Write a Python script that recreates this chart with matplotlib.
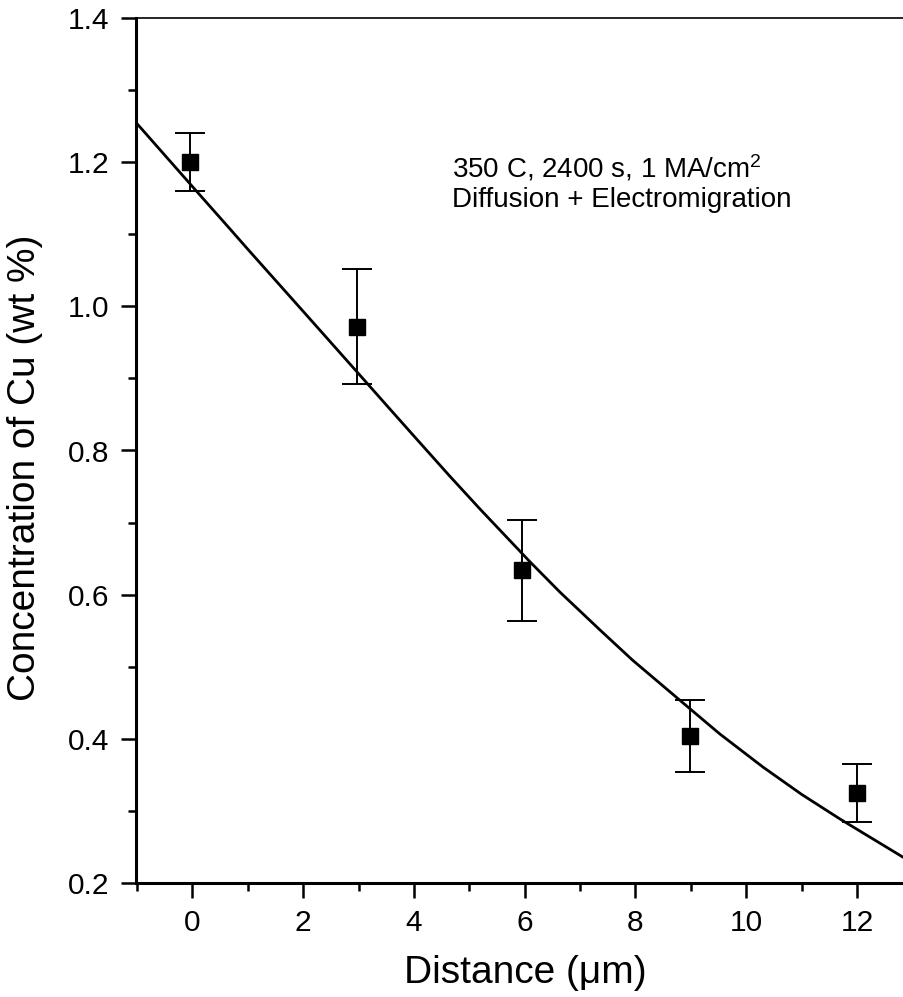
import matplotlib
matplotlib.use("Agg")
import matplotlib.pyplot as plt
from matplotlib.ticker import MultipleLocator

plt.rcParams['font.family'] = ['Liberation Sans', 'DejaVu Sans']
plt.rcParams['mathtext.fontset'] = 'custom'
plt.rcParams['mathtext.rm'] = 'Liberation Sans'
plt.rcParams['mathtext.it'] = 'Liberation Sans'

# measured data
distance = [-0.05, 2.97, 5.95, 8.98, 12.0]
concentration = [1.200, 0.972, 0.634, 0.404, 0.325]
error = [0.040, 0.080, 0.070, 0.050, 0.040]

# fitted curve
fit_x = [-1.02, 0.07, 0.67, 0.99, 1.93, 2.15, 2.96, 3.56, 4.00, 4.64, 5.19,
         6.09, 6.63, 7.36, 7.95, 8.98, 9.52, 10.30, 11.00, 11.69, 12.85]
fit_y = [1.255, 1.160, 1.108, 1.080, 0.999, 0.980, 0.910, 0.858, 0.820, 0.765, 0.719,
         0.646, 0.604, 0.551, 0.509, 0.442, 0.407, 0.361, 0.323, 0.289, 0.235]

xticks = [0, 2, 4, 6, 8, 10, 12]
yticks = [0.2, 0.4, 0.6, 0.8, 1.0, 1.2, 1.4]

fig = plt.figure(figsize=(9.04, 9.97), dpi=100)
ax = fig.add_axes([136/904, 114/997, 768/904, 865/997])

ax.plot(fit_x, fit_y, color='black', lw=2.0, zorder=2, solid_joinstyle='round')
ax.errorbar(distance, concentration, yerr=error, fmt='s', color='black',
            markersize=12, ecolor='black', elinewidth=1.4, capsize=11,
            capthick=1.4, zorder=3)

ax.set_xlim(-1.02, 12.85)
ax.set_ylim(0.2, 1.4)
ax.set_xticks(xticks)
ax.set_yticks(yticks)
ax.set_xticklabels([str(v) for v in xticks])
ax.set_yticklabels([f"{v:.1f}" for v in yticks])
ax.xaxis.set_minor_locator(MultipleLocator(1))
ax.yaxis.set_minor_locator(MultipleLocator(0.1))

ax.tick_params(which='major', direction='out', length=11, width=1.8,
               labelsize=21.5, pad=8)
ax.tick_params(which='minor', direction='out', length=5.5, width=1.8)

ax.spines['right'].set_visible(False)
ax.spines['left'].set_linewidth(2.2)
ax.spines['bottom'].set_linewidth(2.2)
ax.spines['top'].set_linewidth(1.2)

ax.set_xlabel('Distance (μm)', fontsize=28)
ax.set_ylabel('Concentration of Cu (wt %)', fontsize=28)
ax.xaxis.set_label_coords(0.507, -0.083)
ax.yaxis.set_label_coords(-0.121, 0.48)

ax.text(0.411, 0.816, '350 C, 2400 s, 1 MA/cm$^2$', transform=ax.transAxes,
        fontsize=20, va='baseline', ha='left')
ax.text(0.411, 0.7815, 'Diffusion + Electromigration', transform=ax.transAxes,
        fontsize=20, va='baseline', ha='left')

fig.savefig('out.png', dpi=100)
